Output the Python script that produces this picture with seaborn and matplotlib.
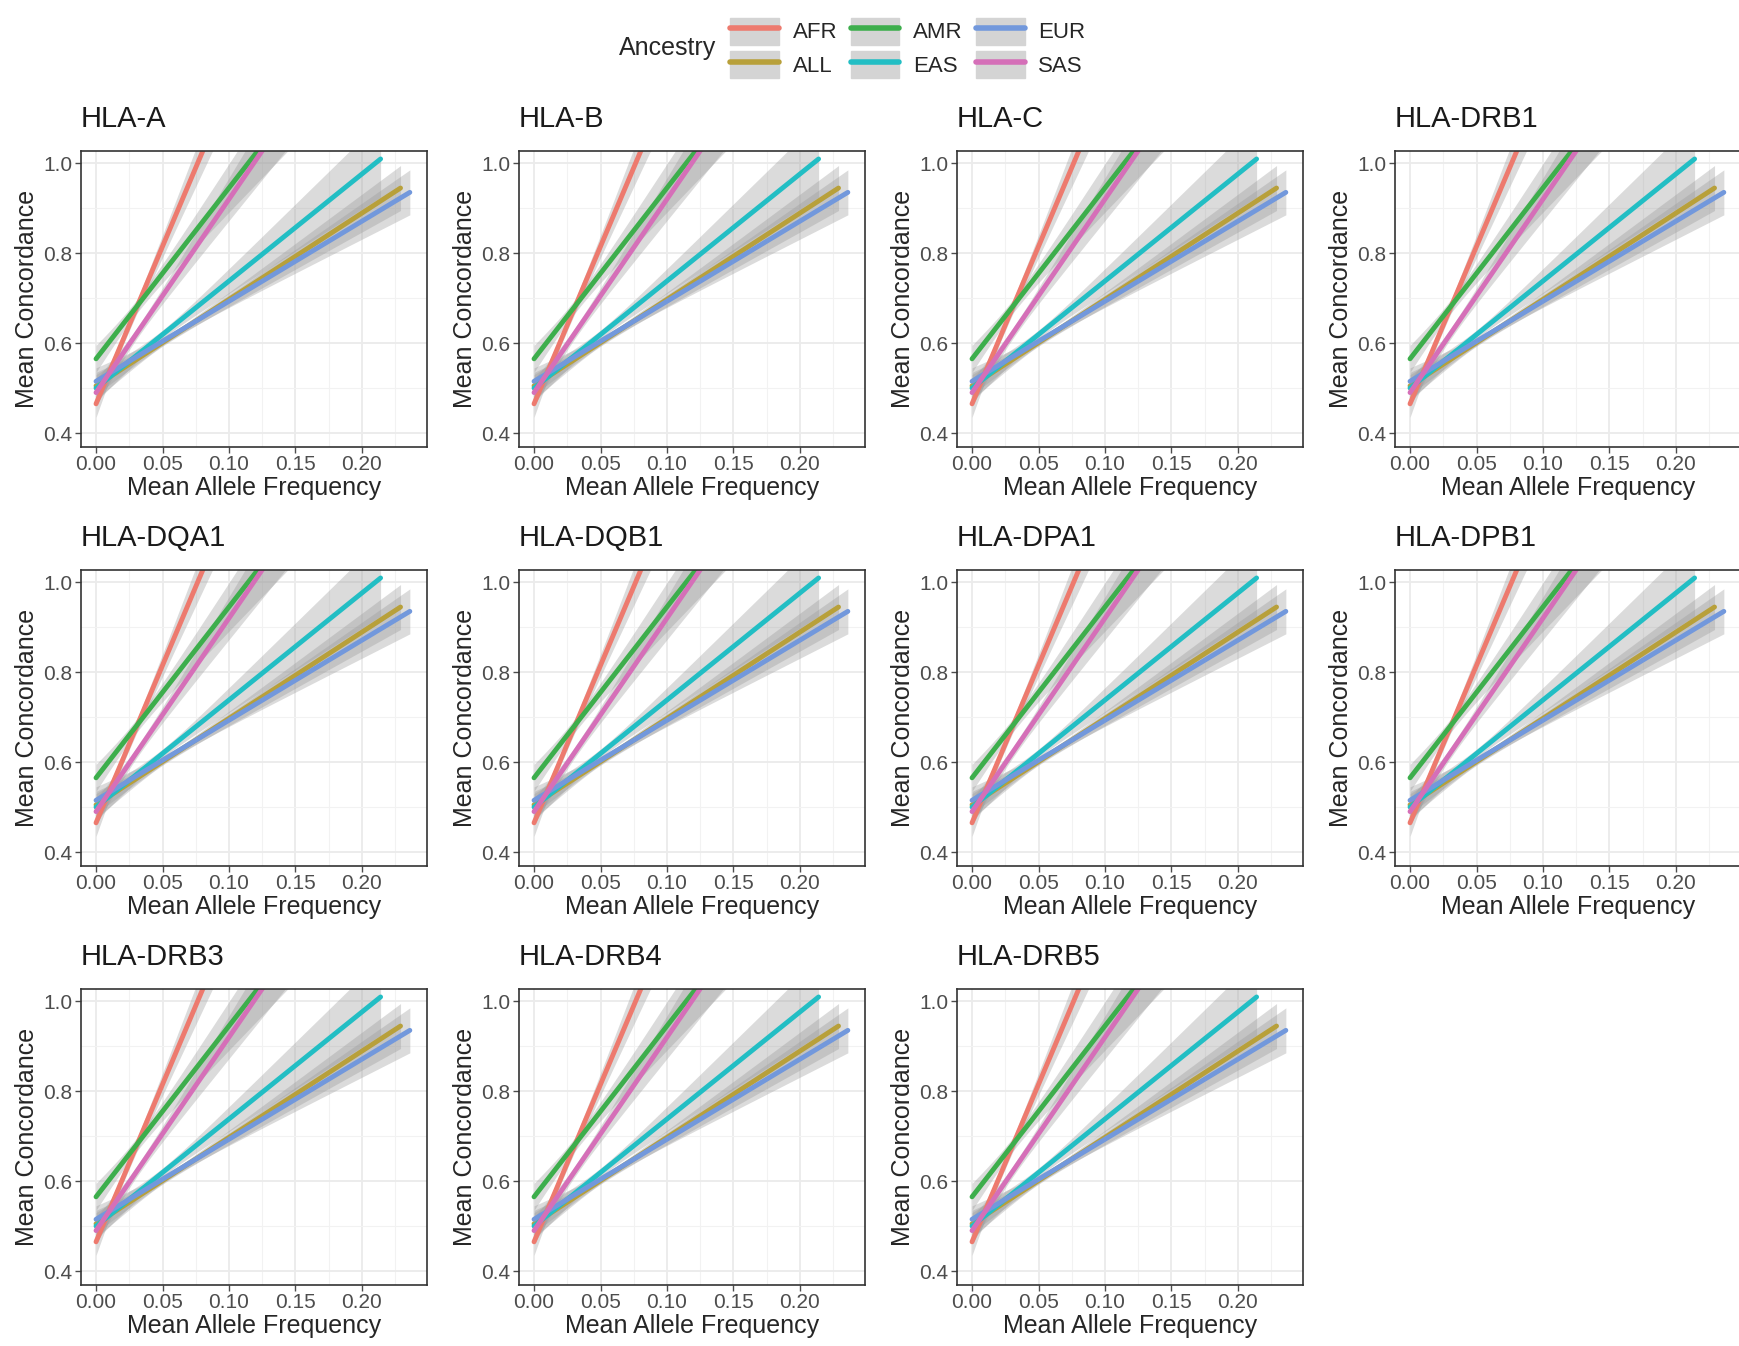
import numpy as np
import pandas as pd
import matplotlib
matplotlib.use("Agg")
import matplotlib.pyplot as plt
import seaborn as sns
from matplotlib.lines import Line2D
from matplotlib.patches import Patch
from matplotlib.legend_handler import HandlerTuple
from matplotlib.ticker import MultipleLocator
from matplotlib.offsetbox import HPacker

sns.set_theme(style="white")
plt.rcParams['font.family'] = ['Liberation Sans', 'DejaVu Sans']

# panels
genes = ["HLA-A", "HLA-B", "HLA-C", "HLA-DRB1",
         "HLA-DQA1", "HLA-DQB1", "HLA-DPA1", "HLA-DPB1",
         "HLA-DRB3", "HLA-DRB4", "HLA-DRB5"]

# fitted lines per ancestry (same in every panel)
ancestry = ["AFR", "ALL", "AMR", "EAS", "EUR", "SAS"]
colors = ["#ED7A6E", "#B8A03A", "#3DAE4C", "#22BEC4", "#7298DC", "#D56FB8"]
intercept = [0.465, 0.505, 0.565, 0.500, 0.515, 0.490]
slope = [7.0, 1.92, 3.80, 2.38, 1.78, 4.30]
x_max = [0.10, 0.229, 0.15, 0.214, 0.236, 0.15]
# confidence half-widths at x=0, at the narrowest point and at x_max
hw_start = [0.030, 0.030, 0.030, 0.030, 0.030, 0.030]
hw_min = [0.012, 0.008, 0.015, 0.010, 0.008, 0.012]
hw_end = [0.060, 0.050, 0.090, 0.085, 0.050, 0.080]
x_narrow = [0.02, 0.05, 0.03, 0.05, 0.06, 0.03]

fig = plt.figure(figsize=(17.39, 13.46), dpi=100)
W, H = 1739, 1346
ax_w, ax_h = 346, 296
lefts = [81, 519, 957, 1395]
tops = [151, 570, 989]

for k, gene in enumerate(genes):
    r, c = divmod(k, 4)
    ax = fig.add_axes([lefts[c] / W, 1 - (tops[r] + ax_h) / H, ax_w / W, ax_h / H])
    ax.set_xlim(-0.0113, 0.2489)
    ax.set_ylim(0.369, 1.027)
    ax.xaxis.set_major_locator(MultipleLocator(0.05))
    ax.xaxis.set_minor_locator(MultipleLocator(0.025))
    ax.yaxis.set_major_locator(MultipleLocator(0.2))
    ax.yaxis.set_minor_locator(MultipleLocator(0.1))
    ax.grid(which="major", color="#EBEBEB", lw=1.3)
    ax.grid(which="minor", color="#F2F2F2", lw=0.8)
    ax.set_axisbelow(True)
    for i, name in enumerate(ancestry):
        xs = np.linspace(0, x_max[i], 60)
        ys = intercept[i] + slope[i] * xs
        a = hw_min[i]
        b0 = np.sqrt(max(hw_start[i] ** 2 - a ** 2, 0)) / max(x_narrow[i], 1e-6)
        b1 = np.sqrt(max(hw_end[i] ** 2 - a ** 2, 0)) / max(x_max[i] - x_narrow[i], 1e-6)
        b = np.where(xs < x_narrow[i], b0, b1)
        hw = np.sqrt(a ** 2 + (b * (xs - x_narrow[i])) ** 2)
        ax.fill_between(xs, ys - hw, ys + hw, color="#999999", alpha=0.35, lw=0)
        sns.lineplot(x=xs, y=ys, ax=ax, color=colors[i], lw=3.5)
    ax.text(0, 1.06, gene, transform=ax.transAxes, fontsize=21, color="#1A1A1A",
            ha="left", va="bottom")
    ax.set_xlabel("Mean Allele Frequency", fontsize=18, labelpad=1)
    ax.set_ylabel("Mean Concordance", fontsize=18, labelpad=3)
    ax.tick_params(axis="both", which="major", labelsize=15, colors="#4D4D4D",
                   length=4, width=1, left=True, bottom=True, pad=2)
    for s in ax.spines.values():
        s.set_color("#333333")
        s.set_linewidth(1.2)

handles = [(Patch(color="#D4D4D4"), Line2D([], [], color=col, lw=4)) for col in colors]
leg = fig.legend(handles, ancestry, ncol=3, loc="center", bbox_to_anchor=(0.49, 1 - 48 / H),
                 handler_map={tuple: HandlerTuple(ndivide=1, pad=0)}, frameon=False,
                 fontsize=16, title="Ancestry", title_fontsize=18, handlelength=2.2,
                 handleheight=1.5, columnspacing=0.6, labelspacing=0.3, handletextpad=0.6,
                 borderpad=0)
title_box = leg._legend_title_box
body = leg._legend_handle_box
leg._legend_box._children = [HPacker(pad=0, sep=10, align="center", children=[title_box, body])]

fig.savefig("out.png", dpi=100)
